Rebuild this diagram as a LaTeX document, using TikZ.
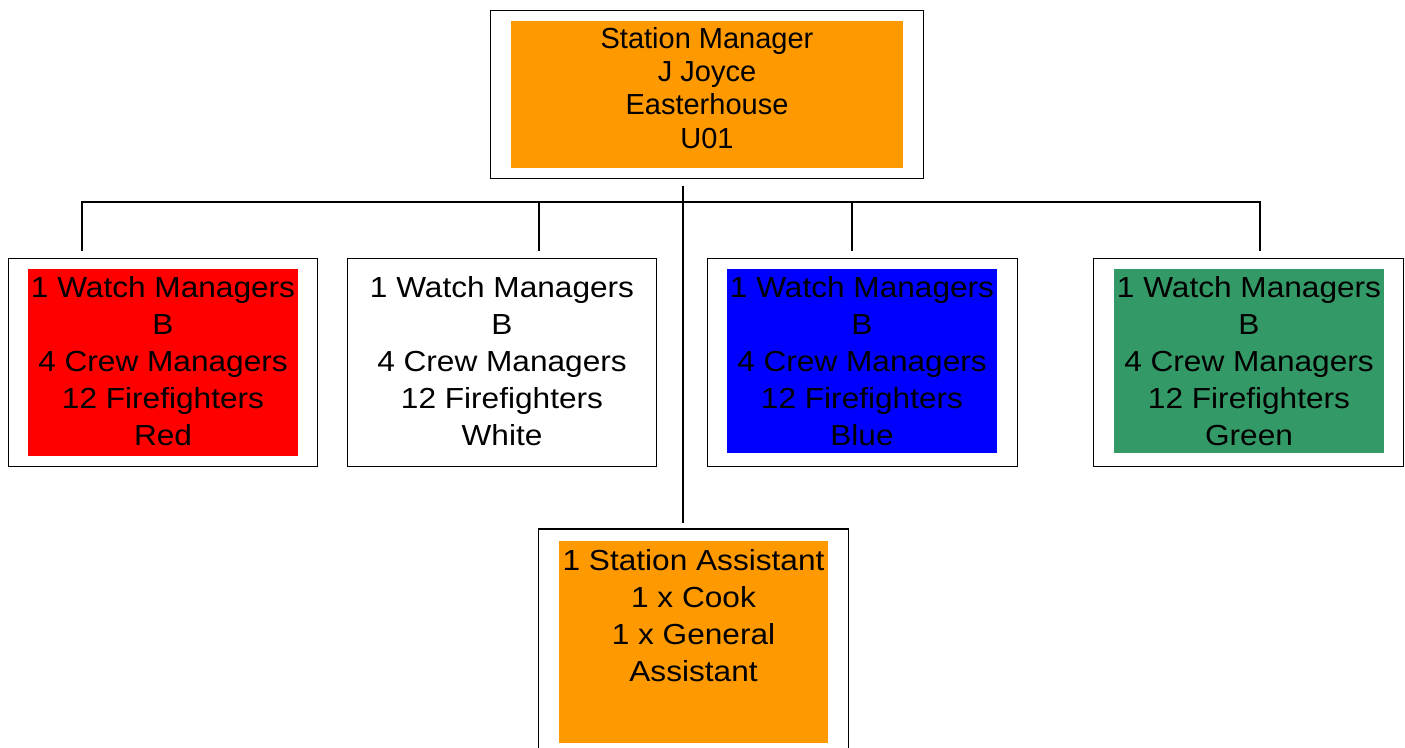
\documentclass[tikz,border=0pt]{standalone}
\usepackage{fontspec}
\setmainfont{Liberation Sans}
\newfontfamily\wfont[FakeStretch=1.09]{Liberation Sans}
\definecolor{smorange}{RGB}{255,153,0}
\definecolor{wred}{RGB}{255,0,0}
\definecolor{wblue}{RGB}{0,0,255}
\definecolor{wgreen}{RGB}{51,153,102}
\begin{document}
\begin{tikzpicture}[x=1pt,y=-1pt,
  frame/.style={draw=black, line width=1.6pt, fill=white, inner sep=0pt, outer sep=0pt},
  band/.style={inner sep=0pt, outer sep=0pt},
  topt/.style={font=\fontsize{29}{33.3}\selectfont, align=center, inner sep=0pt, anchor=north},
  lowt/.style={font=\wfont\fontsize{29}{37}\selectfont, align=center, inner sep=0pt, anchor=north},
  link/.style={line width=1.6pt}]
\useasboundingbox (0,0) rectangle (1405,747);

% top box
\node[frame, minimum width=433, minimum height=168] (sm) at (707,94.5) {};
\node[band, fill=smorange, minimum width=392, minimum height=147] (smfill) at (707,94.5) {};
\node[topt] (smtext) at (707,27) {Station Manager\\J Joyce\\Easterhouse\\U01};

% watches
\node[frame, minimum width=309, minimum height=208] (red) at (163,362.5) {};
\node[band, fill=wred, minimum width=270, minimum height=187] (redfill) at (163,362.5) {};
\node[lowt] (redtext) at (163,276) {1 Watch Managers\\B\\4 Crew Managers\\12 Firefighters\\Red};

\node[frame, minimum width=309, minimum height=208] (white) at (502,362.5) {};
\node[lowt] (whitetext) at (502,276) {1 Watch Managers\\B\\4 Crew Managers\\12 Firefighters\\White};

\node[frame, minimum width=310, minimum height=208] (blue) at (862.5,362.5) {};
\node[band, fill=wblue, minimum width=270, minimum height=184] (bluefill) at (862,361) {};
\node[lowt] (bluetext) at (862,276) {1 Watch Managers\\B\\4 Crew Managers\\12 Firefighters\\Blue};

\node[frame, minimum width=310, minimum height=208] (green) at (1248.5,362.5) {};
\node[band, fill=wgreen, minimum width=270, minimum height=184] (greenfill) at (1249,361) {};
\node[lowt] (greentext) at (1249,276) {1 Watch Managers\\B\\4 Crew Managers\\12 Firefighters\\Green};

% assistant box
\node[frame, minimum width=310, minimum height=231] (assist) at (693.5,644.5) {};
\node[band, fill=smorange, minimum width=269, minimum height=202] (assistfill) at (693.5,642) {};
\node[lowt] (assisttext) at (693.5,549) {1 Station Assistant\\1 x Cook\\1 x General\\Assistant};

% connectors
\coordinate (hubTop) at (683,186);
\coordinate (hubBot) at (683,523);
\coordinate (busL) at (82,202);
\coordinate (busR) at (1260,202);
\coordinate (dR) at (82,251);
\coordinate (dW) at (539,251);
\coordinate (dB) at (852,251);
\coordinate (dG) at (1260,251);
\draw[link] (hubTop) -- (hubBot);
\draw[link] (dR) -- (busL) -- (busR) -- (dG);
\draw[link] (dW) -- (dW |- busL);
\draw[link] (dB) -- (dB |- busL);
\end{tikzpicture}
\end{document}
